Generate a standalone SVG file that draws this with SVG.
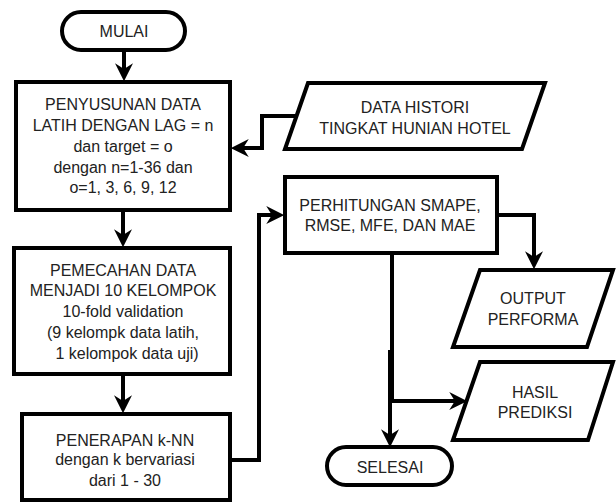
<svg xmlns="http://www.w3.org/2000/svg" width="616" height="502" viewBox="0 0 616 502">
<style>
.s{fill:#fff;stroke:#000;stroke-width:4;stroke-linejoin:miter}
.c{fill:none;stroke:#000;stroke-width:4;stroke-linejoin:miter;marker-end:url(#ah)}
.t{font-family:"Liberation Sans",Arial,sans-serif;font-size:16px;fill:#222;text-anchor:middle}
</style>
<defs>
<marker id="ah" markerUnits="userSpaceOnUse" markerWidth="18" markerHeight="18" viewBox="0 0 16 16" refX="6" refY="8" orient="auto">
<path d="M0,0 L16,8 L0,16 L5,8 Z" fill="#000"/>
</marker>
</defs>
<rect width="616" height="502" fill="#fff"/>
<g id="connectors">
<path class="c" d="M124,50 L124,70"/>
<path class="c" d="M123,210 L123,236"/>
<path class="c" d="M123,374 L123,402"/>
<path class="c" d="M297,116 L262,116 L262,148 L242,148"/>
<path class="c" d="M230,460 L259,460 L259,215 L273,215"/>
<path class="c" d="M497,215 L534,215 L534,258"/>
<path class="c" d="M392,253 L392,401 L456,401"/>
<path class="c" d="M390,350 L390,436"/>
</g>
<g id="mulai">
<rect class="s" x="62" y="12" width="123" height="38" rx="19"/>
<text class="t" x="124" y="37">MULAI</text>
</g>
<g id="penyusunan">
<rect class="s" x="16" y="82" width="214" height="128"/>
<text class="t" x="123" y="110">PENYUSUNAN DATA</text>
<text class="t" x="123" y="131">LATIH DENGAN LAG = n</text>
<text class="t" x="123" y="152">dan target = o</text>
<text class="t" x="123" y="173">dengan n=1-36 dan</text>
<text class="t" x="123" y="193">o=1, 3, 6, 9, 12</text>
</g>
<g id="data-histori">
<polygon class="s" points="308,83 545,83 522,149 285,149"/>
<text class="t" x="415" y="113">DATA HISTORI</text>
<text class="t" x="415" y="134">TINGKAT HUNIAN HOTEL</text>
</g>
<g id="pemecahan">
<rect class="s" x="14" y="248" width="216" height="126"/>
<text class="t" x="123" y="276">PEMECAHAN DATA</text>
<text class="t" x="123" y="296">MENJADI 10 KELOMPOK</text>
<text class="t" x="123" y="317">10-fold validation</text>
<text class="t" x="123" y="338">(9 kelompk data latih,</text>
<text class="t" x="127" y="359">1 kelompok data uji)</text>
</g>
<g id="penerapan">
<rect class="s" x="22" y="414" width="208" height="86"/>
<text class="t" x="125" y="446">PENERAPAN k-NN</text>
<text class="t" x="125" y="465">dengan k bervariasi</text>
<text class="t" x="125" y="486">dari 1 - 30</text>
</g>
<g id="perhitungan">
<rect class="s" x="285" y="177" width="212" height="76"/>
<text class="t" x="390" y="211">PERHITUNGAN SMAPE,</text>
<text class="t" x="390" y="231">RMSE, MFE, DAN MAE</text>
</g>
<g id="output">
<polygon class="s" points="480,270 613,270 587,347 453,347"/>
<text class="t" x="533" y="304">OUTPUT</text>
<text class="t" x="533" y="325">PERFORMA</text>
</g>
<g id="hasil">
<polygon class="s" points="480,362 613,362 588,440 453,440"/>
<text class="t" x="535" y="398">HASIL</text>
<text class="t" x="535" y="418">PREDIKSI</text>
</g>
<g id="selesai">
<rect class="s" x="327" y="447" width="125" height="38" rx="19"/>
<text class="t" x="390" y="473">SELESAI</text>
</g>
</svg>
